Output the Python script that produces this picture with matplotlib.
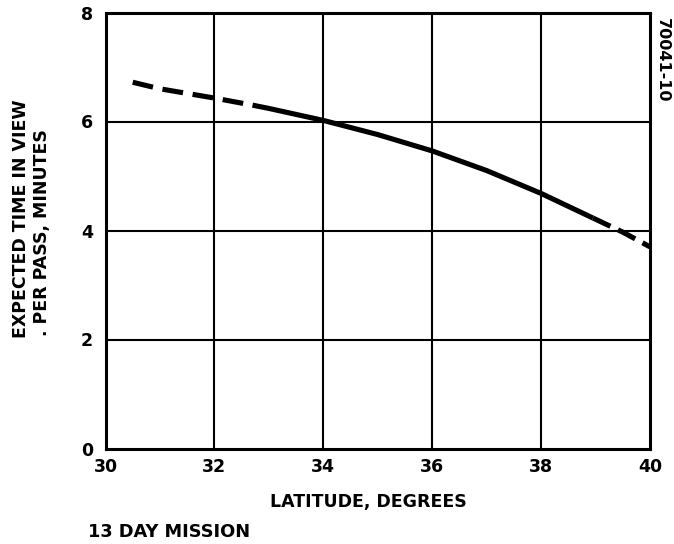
import matplotlib
matplotlib.use('Agg')
import matplotlib.pyplot as plt

# dados #
lat_esq = [30.5, 31.0, 32.0, 32.7]
tempo_esq = [6.72, 6.60, 6.43, 6.30]

lat_meio = [32.7, 33.0, 34.0, 35.0, 36.0, 37.0, 38.0, 38.95]
tempo_meio = [6.30, 6.24, 6.02, 5.76, 5.46, 5.10, 4.68, 4.23]

lat_dir = [38.95, 39.5, 40.0]
tempo_dir = [4.23, 3.97, 3.70]

xticks = [30, 32, 34, 36, 38, 40]
yticks = [0, 2, 4, 6, 8]

plt.rcParams['font.family'] = ['DejaVu Sans']
plt.rcParams['font.weight'] = 'bold'
plt.rcParams['lines.scale_dashes'] = False

fig = plt.figure(figsize=(6.74, 5.44), dpi=100)
ax = fig.add_axes([105.5/674, 1 - 448.5/544, (650 - 105.5)/674, (448.5 - 12.5)/544])

# grade #
for x in xticks[1:-1]:
    ax.axvline(x, color='black', linewidth=1.5, zorder=1)
for y in yticks[1:-1]:
    ax.axhline(y, color='black', linewidth=1.5, zorder=1)

# curva #
ax.plot(lat_esq, tempo_esq, color='black', linewidth=3.7, dashes=(15, 7), dash_capstyle='butt', zorder=3)
ax.plot(lat_meio, tempo_meio, color='black', linewidth=3.7, solid_capstyle='butt', zorder=3)
ax.plot(lat_dir, tempo_dir, color='black', linewidth=3.7, dashes=(14, 6), dash_capstyle='butt', zorder=3)

ax.set_xlim(30, 40)
ax.set_ylim(0, 8)
ax.set_xticks(xticks)
ax.set_yticks(yticks)
ax.tick_params(length=0, labelsize=12.5)
ax.tick_params(axis='x', pad=7)
ax.tick_params(axis='y', pad=9)
for s in ax.spines.values():
    s.set_linewidth(2.2)

fig.text(21.5/674, 1 - 219/544, 'EXPECTED TIME IN VIEW', rotation=90, ha='center', va='center', fontsize=12.5, fontweight='bold')
fig.text(42/674, 1 - 233/544, '. PER PASS, MINUTES', rotation=90, ha='center', va='center', fontsize=12.5, fontweight='bold')
fig.text(368/674, 1 - 502/544, 'LATITUDE, DEGREES', ha='center', va='center', fontsize=12.5, fontweight='bold')
fig.text(88/674, 1 - 532/544, '13 DAY MISSION', ha='left', va='center', fontsize=12.8, fontweight='bold')
fig.text(662/674, 1 - 18/544, '70041-10', rotation=-90, ha='center', va='top', fontsize=11.5, fontweight='bold')

fig.savefig('out.png', dpi=100)
